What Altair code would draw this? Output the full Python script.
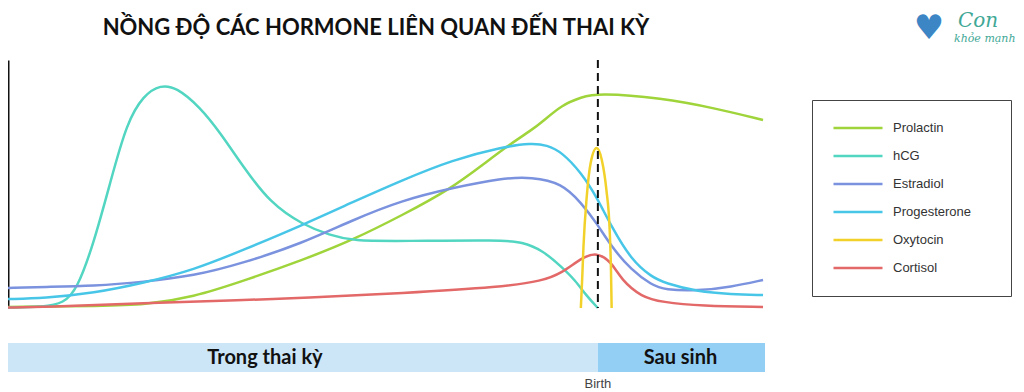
import json
import altair as alt
import pandas as pd

# ---------------- data ----------------
SERIES = ["Prolactin", "hCG", "Estradiol", "Progesterone", "Oxytocin", "Cortisol"]
COLORS = ["#9fd43b", "#52d6c2", "#7b92de", "#48c6e8", "#f2d22a", "#e36868"]

# x is the tick position index (0..9 -> weeks 0..40 of pregnancy, 10..11 -> weeks after birth)
TICK_VALUES = [0, 1, 2, 3, 4, 5, 6, 7, 8, 9, 10, 11, 11.55]
TICK_LABELS = ["0", "4", "8", "12", "16", "20", "28", "32", "36", "40", "4", "8", "Weeks"]

prolactin_x = [0, 1.46, 2.07, 2.83, 3.59, 4.50, 5.26, 6.02, 6.73, 7.28, 7.64, 7.99, 8.15, 8.45, 8.75, 9.0, 9.97, 10.78, 11.52]
prolactin_y = [0.4, 0.8, 1.2, 4.4, 10.9, 19.4, 27.4, 37.5, 47.6, 58.5, 65.7, 71.8, 75.0, 81.9, 85.0, 86.7, 84.7, 80.6, 75.8]

hcg_x = [0, 0.55, 0.85, 1.05, 1.31, 1.57, 1.81, 2.07, 2.33, 2.57, 2.93, 3.24, 3.59, 4.00, 4.50, 4.91, 5.26, 6.02, 7.54, 7.84, 8.15, 8.45, 8.65, 8.83, 9.0]
hcg_y = [0.2, 0.4, 2.0, 7.3, 26.2, 51.6, 74.6, 85.9, 90.0, 89.0, 81.0, 70.6, 56.9, 42.3, 33.5, 29.4, 27.0, 27.0, 27.4, 26.6, 23.4, 16.5, 11.3, 4.8, 0.0]

estradiol_x = [0, 0.55, 1.31, 2.07, 2.83, 3.59, 4.50, 5.26, 6.02, 6.78, 7.54, 7.99, 8.45, 8.75, 8.98, 9.21, 9.51, 9.82, 10.02, 10.53, 11.03, 11.52]
estradiol_y = [8.1, 8.5, 8.9, 10.5, 12.9, 18.1, 26.2, 35.5, 43.5, 48.4, 52.4, 52.8, 50.4, 42.3, 34.3, 24.6, 15.3, 9.3, 7.3, 6.9, 8.5, 11.3]

progesterone_x = [0, 0.55, 1.31, 2.07, 2.83, 3.59, 4.50, 5.26, 6.02, 6.78, 7.54, 7.99, 8.22, 8.45, 8.75, 8.98, 9.21, 9.51, 9.82, 10.02, 10.53, 11.03, 11.52]
progesterone_y = [3.6, 4.0, 6.0, 10.1, 15.3, 23.4, 33.5, 42.7, 51.6, 59.7, 64.9, 66.5, 65.7, 62.9, 54.4, 44.8, 32.7, 19.4, 12.5, 10.1, 6.5, 5.6, 5.2]

oxytocin_x = [8.74, 8.76, 8.78, 8.83, 8.89, 8.98, 9.06, 9.13, 9.18, 9.20, 9.21]
oxytocin_y = [0.0, 11.3, 24.6, 44.8, 58.5, 64.5, 59.7, 47.6, 31.5, 15.3, 0.0]

cortisol_x = [0, 0.55, 2.07, 3.59, 4.50, 6.02, 7.54, 8.15, 8.45, 8.75, 8.98, 9.21, 9.36, 9.67, 9.97, 10.58, 11.52]
cortisol_y = [0.2, 0.4, 2.0, 3.2, 4.0, 6.0, 8.5, 10.9, 14.1, 20.2, 22.6, 18.5, 11.3, 4.4, 2.4, 0.8, 0.4]

BAND_START = [0, 9]
BAND_END = [9, 11.55]
BAND_FILL = ["#cce6f8", "#93cef4"]
BAND_TEXT = ["Trong thai kỳ", "Sau sinh"]
BAND_TEXT_X = [3.92, 10.26]

BIRTH_X = [9]
BIRTH_TEXT = ["Birth"]

TITLE = "NỒNG ĐỘ CÁC HORMONE LIÊN QUAN ĐẾN THAI KỲ"

# ---------------- tables ----------------
xs = [prolactin_x, hcg_x, estradiol_x, progesterone_x, oxytocin_x, cortisol_x]
ys = [prolactin_y, hcg_y, estradiol_y, progesterone_y, oxytocin_y, cortisol_y]
rows = []
for name, xv, yv in zip(SERIES, xs, ys):
    for a, b in zip(xv, yv):
        rows.append({"series": name, "x": a, "y": b})
lines_df = pd.DataFrame(rows)
smooth_df = lines_df[lines_df["series"] != "Oxytocin"]
spike_df = lines_df[lines_df["series"] == "Oxytocin"]

bands_df = pd.DataFrame({"start": BAND_START, "end": BAND_END, "fill": BAND_FILL,
                         "text": BAND_TEXT, "tx": BAND_TEXT_X})
birth_df = pd.DataFrame({"x": BIRTH_X, "text": BIRTH_TEXT})

W, H = 757, 248
xscale = alt.Scale(domain=[0, 11.55], nice=False, zero=False)
yscale = alt.Scale(domain=[0, 100], nice=False, zero=True)

label_expr = "{}[indexof({}, datum.value)]".format(json.dumps(TICK_LABELS), json.dumps(TICK_VALUES))

x_enc = alt.X("x:Q", scale=xscale, axis=alt.Axis(
    values=TICK_VALUES, labelExpr=label_expr, title=None, ticks=False, grid=False,
    domainColor="#111", domainWidth=2, labelFlush=False, labelOverlap=False,
    labelFont="Liberation Sans", labelFontSize=13, labelColor="#333", labelPadding=13))
y_enc = alt.Y("y:Q", scale=yscale, axis=alt.Axis(
    labels=False, ticks=False, grid=False, title=None, domainColor="#111", domainWidth=2))
color_enc = alt.Color("series:N", sort=SERIES,
                      scale=alt.Scale(domain=SERIES, range=COLORS),
                      legend=alt.Legend(
                          orient="none", legendX=804, legendY=40,
                          title="x", titleOrient="right", titleOpacity=0, titleFontSize=6, titlePadding=16,
                          symbolType="stroke", symbolSize=2401, symbolStrokeWidth=2.5,
                          clipHeight=16, rowPadding=12, padding=20,
                          strokeColor="#444", fillColor="white",
                          labelFont="Liberation Sans", labelFontSize=13, labelColor="#333", labelOffset=9))

lines = alt.Chart(smooth_df).mark_line(interpolate="basis", strokeWidth=2.5).encode(
    x=x_enc, y=y_enc, color=color_enc, order=alt.Order("x:Q"))
spike = alt.Chart(spike_df).mark_line(interpolate="monotone", strokeWidth=2.5).encode(
    x=x_enc, y=y_enc, color=color_enc, order=alt.Order("x:Q"))

bands = alt.Chart(bands_df).mark_rect().encode(
    x=alt.X("start:Q", scale=xscale, axis=None),
    x2="end:Q",
    y=alt.value(283), y2=alt.value(312),
    fill=alt.Fill("fill:N", scale=None),
)
band_text = alt.Chart(bands_df).mark_text(font="Lato", fontWeight="bold", fontSize=20, color="#111").encode(
    x=alt.X("tx:Q", scale=xscale, axis=None),
    y=alt.value(297.5),
    text="text:N",
)

birth_rule = alt.Chart(birth_df).mark_rule(color="#111", strokeWidth=2, strokeDash=[8, 5]).encode(
    x=alt.X("x:Q", scale=xscale, axis=None),
    y=alt.value(0), y2=alt.value(H),
)
birth_text = alt.Chart(birth_df).mark_text(font="Liberation Sans", fontSize=13, color="#444").encode(
    x=alt.X("x:Q", scale=xscale, axis=None),
    y=alt.value(324),
    text="text:N",
)

deco_df = pd.DataFrame({"t": [TITLE]})
title = alt.Chart(deco_df).mark_text(font="Lato", fontWeight="bold", fontSize=22, color="#111").encode(
    x=alt.value(368), y=alt.value(-32), text="t:N")

logo_df = pd.DataFrame({"a": ["♥"], "b": ["Con"], "c": ["khỏe mạnh"]})
logo_icon = alt.Chart(logo_df).mark_text(fontSize=34, color="#3d86c6", font="DejaVu Sans").encode(
    x=alt.value(921), y=alt.value(-31), text="a:N")
logo_con = alt.Chart(logo_df).mark_text(fontSize=20, color="#3fa896", font="DejaVu Serif",
                                        fontStyle="italic", align="left").encode(
    x=alt.value(950), y=alt.value(-39), text="b:N")
logo_kh = alt.Chart(logo_df).mark_text(fontSize=11, color="#3fa896", font="DejaVu Serif",
                                       fontStyle="italic", align="left").encode(
    x=alt.value(946), y=alt.value(-21), text="c:N")

chart = alt.layer(bands, band_text, lines, spike, birth_rule, birth_text, title,
                  logo_icon, logo_con, logo_kh).properties(
    width=W, height=H,
    padding={"left": 0, "top": 52, "right": 251, "bottom": 84},
    autosize=alt.AutoSizeParams(type="none"),
    background="white",
).configure_view(stroke=None)

chart.save("out.html", embed_options={"renderer": "svg", "actions": False})
